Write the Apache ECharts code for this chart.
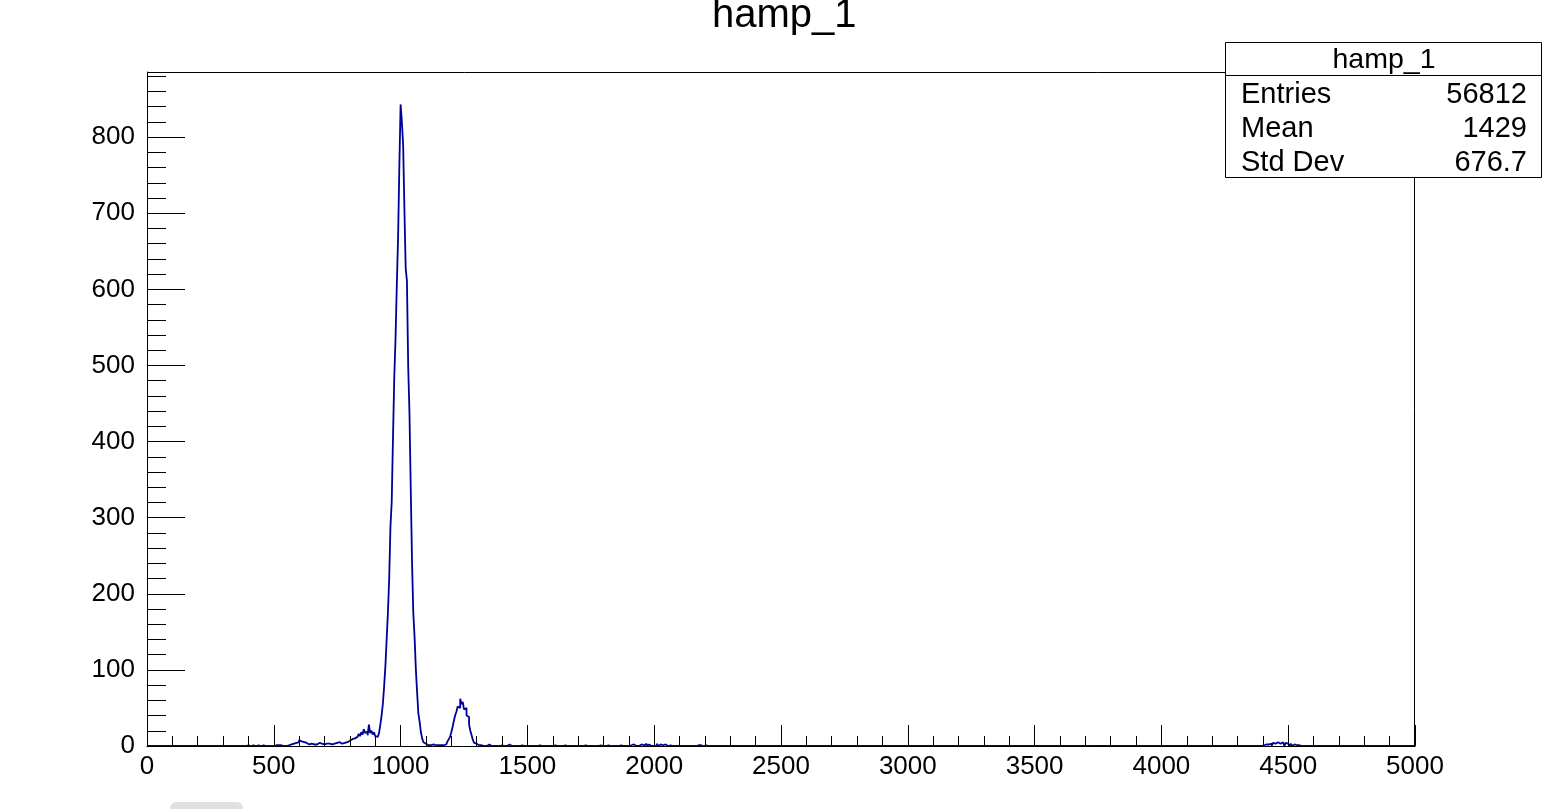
<!DOCTYPE html>
<html>
<head>
<meta charset="utf-8">
<script src="https://cdn.jsdelivr.net/npm/echarts@6/dist/echarts.min.js"></script>
<style>
html,body{margin:0;padding:0;background:#fff;}
#chart{width:1547px;height:809px;}
</style>
</head>
<body>
<div id="chart"></div>
<script>
// ---- data ----
const titleText = 'hamp_1';
const binWidth = 5;
const xMin = 0, xMax = 5000;
const yMax = 885.6;
const xTicks = [0, 500, 1000, 1500, 2000, 2500, 3000, 3500, 4000, 4500, 5000];
const yTicks = [0, 100, 200, 300, 400, 500, 600, 700, 800];

// counts for consecutive bins starting at lowStart
const lowStart = 540;
const lowCounts = [1,0,2,1,3,2,4,3,5,4,6,5,8,6,4,5,3,4,3,2,3,3,4,2,3,2,3,4,2,3,3,2,4,3,2,3,3,2,4,3,3,4,3,5,4,3,5,4,6,5,5,7];

// counts for consecutive bins starting at peakStart
const peakStart = 800;
const peakCounts = [6,9,8,10,9,12,14,16,13,18,15,22,17,19,14,28,17,20,15,18,
  13,12,14,17,28,40,55,78,105,140,175,220,288,321,405,484,535,605,667,760,
  843,820,790,706,628,611,498,437,338,243,175,144,102,71,43,32,18,10,5,3,
  2,1,2,1,0,2,1,1,2,1,2,1,2,1,3,2,4,6,9,12,
  18,25,33,40,45,52,50,62,55,58,48,50,40,38,28,20,14,8,4,3,
  2,1,2,1];

// sparse isolated bins: [bin lower edge, count]
const sparseBins = [
  [370,1],[395,1],[415,1],[430,1],[435,1],[455,1],[470,1],[505,1],[515,1],[525,1],[530,2],
  [1330,1],[1345,2],[1360,1],[1380,1],[1395,1],[1410,1],[1425,2],[1440,1],[1460,1],[1475,1],
  [1500,1],[1510,1],[1530,1],[1545,1],[1605,1],[1610,2],[1645,1],[1660,1],[1725,1],[1730,1],
  [1785,1],[1800,1],[1815,1],[1830,1],[1865,1],[1905,1],[1915,2],[1930,1],[1945,2],[1955,1],
  [1965,3],[1975,2],[1990,1],[2000,2],[2010,3],[2020,2],[2030,1],[2040,2],[2060,1],
  [2170,1],[2180,1],[2200,1],[2225,1],
  [4385,1],[4400,1],[4410,2],[4420,2],[4430,3],[4440,4],[4445,3],[4450,4],[4455,5],[4460,4],
  [4465,3],[4470,4],[4475,5],[4480,3],[4490,4],[4495,3],[4500,2],[4510,3],[4520,2],[4530,1],
  [4540,1],[4555,1],[4575,1]
];

const statsLabels = ['Entries', 'Mean', 'Std Dev'];
const statsValues = ['56812', '1429', '676.7'];

// ---- build histogram ----
const nBins = Math.round((xMax - xMin) / binWidth);
const counts = new Array(nBins).fill(0);
lowCounts.forEach((c, i) => { counts[Math.round((lowStart - xMin) / binWidth) + i] = c; });
peakCounts.forEach((c, i) => { counts[Math.round((peakStart - xMin) / binWidth) + i] = c; });
sparseBins.forEach(([x, c]) => { counts[Math.round((x - xMin) / binWidth)] = c; });
const stepData = counts.map((c, i) => [xMin + i * binWidth, c]);
stepData.push([xMax, counts[nBins - 1]]);

const FONT = 'Liberation Sans, Arial, Helvetica, sans-serif';
const chart = echarts.init(document.getElementById('chart'), null, {renderer: 'canvas'});

const gridL = 147, gridT = 72, gridR = 1547 - 1415, gridB = 809 - 746;

const statsGraphics = [];
const boxX = 1225.5, boxY = 42.5, boxW = 316, boxH = 135, headH = 33;
statsGraphics.push({type: 'rect', shape: {x: boxX, y: boxY, width: boxW, height: boxH},
  style: {fill: '#fff', stroke: '#000', lineWidth: 1}, z: 100});
statsGraphics.push({type: 'line', shape: {x1: boxX, y1: boxY + headH, x2: boxX + boxW, y2: boxY + headH},
  style: {stroke: '#000', lineWidth: 1}, z: 101});
statsGraphics.push({type: 'text', x: 1384, y: 60, z: 101,
  style: {text: titleText, font: '28.5px ' + FONT, fill: '#000', textAlign: 'center', textVerticalAlign: 'middle'}});
statsLabels.forEach((lab, i) => {
  const cy = 95 + i * 34;
  statsGraphics.push({type: 'text', x: 1241, y: cy, z: 101,
    style: {text: lab, font: '29px ' + FONT, fill: '#000', textAlign: 'left', textVerticalAlign: 'middle'}});
  statsGraphics.push({type: 'text', x: 1527, y: cy, z: 101,
    style: {text: statsValues[i], font: '29px ' + FONT, fill: '#000', textAlign: 'right', textVerticalAlign: 'middle'}});
});

const option = {
  animation: false,
  backgroundColor: '#fff',
  grid: {left: gridL, top: gridT, right: gridR, bottom: gridB, show: false},
  xAxis: {
    type: 'value', min: xMin, max: xMax, interval: 500, z: 5,
    axisLine: {show: true, onZero: false, lineStyle: {color: '#000', width: 1}},
    axisTick: {show: true, inside: true, length: 21, lineStyle: {color: '#000', width: 1}},
    minorTick: {show: true, splitNumber: 5, length: 10, lineStyle: {color: '#000', width: 1}},
    axisLabel: {show: true, margin: 8, fontSize: 26, fontFamily: FONT, color: '#000',
      formatter: v => (xTicks.indexOf(v) >= 0 ? String(v) : '')},
    splitLine: {show: false}
  },
  yAxis: [{
    type: 'value', min: 0, max: yMax, interval: 100, position: 'left', z: 5,
    axisLine: {show: true, lineStyle: {color: '#000', width: 1}},
    axisTick: {show: true, inside: true, length: 38, lineStyle: {color: '#000', width: 1}},
    axisLabel: {show: true, margin: 12, fontSize: 26, fontFamily: FONT, color: '#000', showMaxLabel: false,
      formatter: v => (yTicks.indexOf(v) >= 0 ? String(v) : '')},
    splitLine: {show: false}
  }, {
    type: 'value', min: 0, max: yMax, interval: 20, position: 'left', offset: 0, z: 5,
    axisLine: {show: false},
    axisTick: {show: true, inside: true, length: 19, lineStyle: {color: '#000', width: 1}},
    axisLabel: {show: false},
    splitLine: {show: false}
  }],
  series: [{
    type: 'line', step: 'end', data: stepData, xAxisIndex: 0, yAxisIndex: 0,
    showSymbol: false, symbol: 'none', clip: true,
    lineStyle: {color: '#000099', width: 1.8},
    z: 2
  }],
  graphic: [
    {type: 'polyline', shape: {points: [[147.5, 746], [147.5, 72.5], [1414.5, 72.5], [1414.5, 746]]},
      style: {stroke: '#000', lineWidth: 1, fill: null}, z: 50},
    {type: 'text', x: 712, y: 16, z: 100,
      style: {text: titleText, font: '40px ' + FONT, fill: '#000', textAlign: 'left', textVerticalAlign: 'middle'}},
    {type: 'rect', shape: {x: 170, y: 802, width: 73, height: 14, r: 6}, style: {fill: '#e0e0e0'}, z: 100}
  ].concat(statsGraphics)
};
chart.setOption(option);
</script>
</body>
</html>
